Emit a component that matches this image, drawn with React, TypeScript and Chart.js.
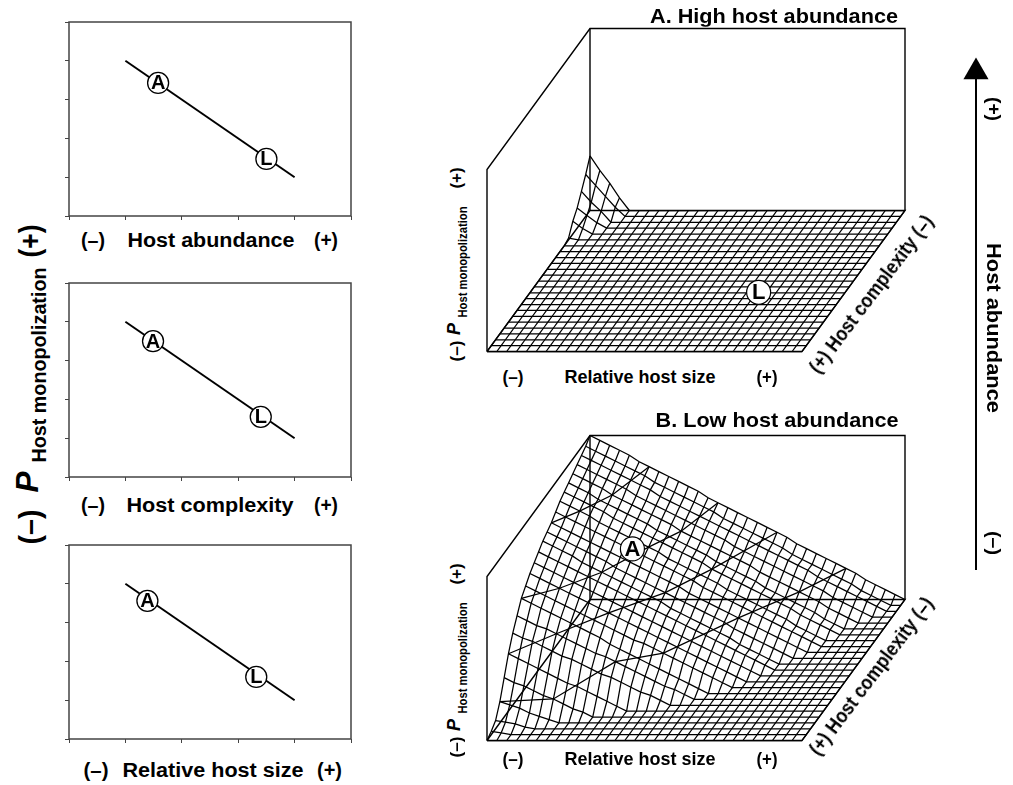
import React, { useEffect, useRef } from "react";
import { Chart, registerables } from "chart.js";

Chart.register(...registerables);

const FONT = '"Liberation Sans", Arial, sans-serif';
const INK = "#000000";
const FRAME = "#444444";

// ---- Left-hand line panels (arbitrary 0..5 units) ----
const trendX = [1, 4];
const trendY = [4, 1];
const abundanceAL = [[1.58, 3.43], [3.5, 1.47]];
const complexityAL = [[1.49, 3.5], [3.4, 1.55]];
const sizeAL = [[1.39, 3.56], [3.32, 1.6]];
const markerLetters = ["A", "L"];

// ---- Surface heights in % of the wall height. Row = complexity step, front (+) to back (-); column = size step (-) to (+). Missing end cells lie on the floor ----
const COLS = 32;
const ROWS = 24;
const lowAbundanceZ: number[][] = [
  [0],
  [2, 1, 0],
  [5, 4, 3, 1, 0],
  [13, 11, 9, 6, 4, 2, 0],
  [24, 21, 19, 16, 13, 11, 8, 5, 3, 0],
  [35, 32, 29, 26, 23, 20, 17, 15, 12, 9, 6, 3, 0],
  [44, 41, 39, 36, 33, 30, 28, 25, 22, 19, 17, 14, 11, 8, 6, 3, 0],
  [51, 48, 45, 43, 40, 37, 34, 31, 28, 26, 23, 20, 17, 14, 11, 8, 6, 3, 0],
  [58, 55, 52, 49, 46, 43, 40, 37, 34, 30, 27, 24, 21, 18, 15, 12, 9, 6, 3, 0],
  [62, 59, 56, 53, 50, 47, 44, 41, 38, 35, 32, 29, 27, 24, 21, 18, 15, 12, 9, 6, 3, 0],
  [66, 63, 60, 57, 54, 51, 48, 45, 42, 39, 36, 33, 30, 27, 24, 21, 18, 15, 12, 9, 6, 3, 0],
  [69, 66, 63, 60, 57, 54, 51, 48, 45, 42, 39, 36, 33, 30, 27, 24, 21, 18, 15, 12, 9, 6, 3, 0],
  [72, 69, 66, 63, 60, 57, 54, 51, 48, 45, 42, 39, 36, 33, 30, 27, 24, 21, 18, 15, 12, 9, 6, 3, 0],
  [75, 72, 69, 66, 62, 59, 56, 53, 50, 47, 44, 41, 38, 34, 31, 28, 25, 22, 19, 16, 12, 9, 6, 3, 0],
  [77, 74, 71, 68, 65, 62, 59, 55, 52, 49, 46, 43, 40, 37, 34, 31, 28, 25, 22, 18, 15, 12, 9, 6, 3, 0],
  [79, 76, 73, 70, 67, 64, 61, 58, 55, 52, 49, 46, 43, 40, 36, 33, 30, 27, 24, 21, 18, 15, 12, 9, 6, 3, 0],
  [82, 79, 76, 73, 70, 67, 64, 61, 58, 55, 52, 49, 46, 43, 40, 36, 33, 30, 27, 24, 21, 18, 15, 12, 9, 6, 3, 0],
  [85, 82, 79, 76, 72, 69, 66, 63, 60, 57, 54, 50, 47, 44, 41, 38, 35, 31, 28, 25, 22, 19, 16, 13, 9, 6, 3, 0],
  [87, 84, 81, 78, 75, 71, 68, 65, 62, 59, 56, 53, 50, 47, 44, 40, 37, 34, 31, 28, 25, 22, 19, 16, 12, 9, 6, 3, 0],
  [89, 86, 83, 79, 76, 73, 70, 67, 64, 60, 57, 54, 51, 48, 45, 41, 38, 35, 32, 29, 25, 22, 19, 16, 13, 10, 6, 3, 0],
  [91, 88, 85, 82, 78, 75, 72, 69, 66, 63, 60, 56, 53, 50, 47, 44, 41, 38, 35, 31, 28, 25, 22, 19, 16, 13, 9, 6, 3, 0],
  [93, 90, 87, 84, 81, 78, 74, 71, 68, 65, 62, 59, 56, 53, 50, 47, 43, 40, 37, 34, 31, 28, 25, 22, 19, 16, 12, 9, 6, 3, 0],
  [95, 92, 89, 86, 83, 80, 77, 74, 70, 67, 64, 61, 58, 55, 52, 49, 46, 43, 40, 37, 34, 31, 28, 25, 21, 18, 15, 12, 9, 6, 3, 0],
  [97, 94, 91, 88, 85, 82, 79, 75, 72, 69, 66, 63, 60, 57, 53, 50, 47, 44, 41, 38, 35, 31, 28, 25, 22, 19, 16, 13, 9, 6, 3, 0],
  [100, 97, 94, 91, 88, 84, 81, 78, 75, 72, 69, 66, 62, 59, 56, 53, 50, 47, 44, 41, 38, 34, 31, 28, 25, 22, 19, 16, 12, 9, 6, 3, 0],
];
const highAbundanceZ: number[][] = [
  [], [], [], [], [], [], [], [], [], [], [], [], [], [], [], [], [], [], [],
  [1, 0],
  [7, 3, 0],
  [11, 7, 3, 0],
  [17, 11, 6, 0],
  [23, 17, 11, 5, 0],
  [30, 22, 15, 7, 0],
];
// Coarser lines across the low-abundance surface, as [column, row] mesh nodes
const crossLines: number[][][] = [
  [[0, 15], [2, 17], [4, 20], [6, 24]],
  [[0, 8], [3, 10], [6, 13], [9, 17], [11, 20], [13, 24]],
  [[0, 5], [4, 7], [8, 10], [12, 14], [15, 18], [19, 24]],
  [[0, 3], [5, 4], [10, 7], [14, 9], [19, 15], [23, 20], [26, 24]],
];
// Box edges as [size, complexity, height]
const boxEdges: number[][][] = [
  [[0, 0, 0], [1, 0, 0], [1, 1, 0], [0, 1, 0], [0, 0, 0]],
  [[0, 0, 0], [0, 0, 1], [0, 1, 1], [1, 1, 1], [1, 1, 0]],
  [[0, 1, 1], [0, 1, 0]],
];
const markerHigh = [[0.725, 0.42, 0]];
const markerLow = [[0.236, 0.69, 0.575]];
const hostAbundanceAxis = [0, 1];

const letterPlugin = {
  id: "letters",
  afterDatasetsDraw(chart: any) {
    chart.data.datasets.forEach((ds: any, k: number) => {
      if (!ds.letters) return;
      const meta = chart.getDatasetMeta(k);
      const c = chart.ctx;
      c.save();
      c.fillStyle = INK;
      c.font = `bold ${ds.letterSize}px ${FONT}`;
      c.textAlign = "center";
      c.textBaseline = "middle";
      meta.data.forEach((p: any, i: number) => c.fillText(ds.letters[i], p.x, p.y + 1));
      c.restore();
    });
  },
};

function useChart(build: () => any) {
  const ref = useRef<HTMLCanvasElement>(null);
  useEffect(() => {
    const chart = new Chart(ref.current!, build());
    return () => chart.destroy();
  }, []);
  return ref;
}

const quiet = { legend: { display: false }, tooltip: { enabled: false }, title: { display: false } };

function LinePanel({ top, al }: { top: number; al: number[][] }) {
  const ref = useChart(() => ({
    type: "scatter",
    plugins: [letterPlugin],
    data: {
      datasets: [
        { order: 3, data: [[0, 0], [0, 5], [5, 5], [5, 0], [0, 0]].map(([x, y]) => ({ x, y })), showLine: true, borderColor: FRAME, borderWidth: 1.5, pointRadius: 0, clip: false },
        { order: 2, data: trendX.map((x, i) => ({ x, y: trendY[i] })), showLine: true, borderColor: INK, borderWidth: 2, pointRadius: 0 },
        { order: 1, data: al.map(([x, y]) => ({ x, y })), showLine: false, pointRadius: 10.5, pointBackgroundColor: "#ffffff", pointBorderColor: INK, pointBorderWidth: 1.3, letters: markerLetters, letterSize: 20, clip: false },
      ],
    },
    options: {
      animation: false,
      responsive: false,
      layout: { padding: { top: 4, right: 4 }, autoPadding: false },
      plugins: quiet,
      scales: {
        x: { type: "linear", min: 0, max: 5, afterFit: (s: any) => { s.height = 4; }, ticks: { display: false, stepSize: 1 }, border: { display: false }, grid: { drawOnChartArea: false, color: FRAME, tickLength: 4, lineWidth: 1 } },
        y: { type: "linear", min: 0, max: 5, afterFit: (s: any) => { s.width = 4; }, ticks: { display: false, stepSize: 1 }, border: { display: false }, grid: { drawOnChartArea: false, color: FRAME, tickLength: 4, lineWidth: 1 } },
      },
    },
  }));
  return <canvas ref={ref} width={290} height={202} style={{ position: "absolute", left: 65, top, width: 290, height: 202 }} />;
}

const SKEW_X = 103 / 315;
const SKEW_Y = 141 / 315;

function SurfacePanel({ top, height, wall, floorY, z, cross, marker, letter }: any) {
  const zh = wall / 315;
  const proj = (u: number, v: number, h: number) => ({ x: u + SKEW_X * v, y: SKEW_Y * v + zh * h });
  const at = (i: number, j: number) => (z[j][i] ?? 0) / 100;
  const ref = useChart(() => {
    const line = { order: 2, showLine: true, borderColor: INK, borderWidth: 1.25, pointRadius: 0, tension: 0 };
    const datasets: any[] = [];
    for (let j = 0; j <= ROWS; j++) {
      const data = [];
      for (let i = 0; i <= COLS; i++) data.push(proj(i / COLS, j / ROWS, at(i, j)));
      datasets.push({ ...line, data });
    }
    for (let i = 0; i <= COLS; i++) {
      const data = [];
      for (let j = 0; j <= ROWS; j++) data.push(proj(i / COLS, j / ROWS, at(i, j)));
      datasets.push({ ...line, data });
    }
    cross.forEach((l: number[][]) => datasets.push({ ...line, data: l.map(([i, j]) => proj(i / COLS, j / ROWS, at(i, j))) }));
    boxEdges.forEach((e) => datasets.push({ ...line, borderWidth: 1.4, data: e.map(([u, v, h]) => proj(u, v, h)) }));
    datasets.push({ order: 1, data: marker.map(([u, v, h]: number[]) => proj(u, v, h)), showLine: false, pointRadius: 12, pointBackgroundColor: "#ffffff", pointBorderColor: INK, pointBorderWidth: 1.2, letters: [letter], letterSize: 22 });
    return {
      type: "scatter",
      plugins: [letterPlugin],
      data: { datasets },
      options: {
        animation: false,
        responsive: false,
        layout: { padding: 0, autoPadding: false },
        plugins: quiet,
        scales: {
          x: { type: "linear", display: false, min: -17 / 315, max: (450 - 17) / 315 },
          y: { type: "linear", display: false, min: -(top + height - floorY) / 315, max: (floorY - top) / 315 },
        },
      },
    };
  });
  return <canvas ref={ref} width={450} height={height} style={{ position: "absolute", left: 470, top, width: 450, height }} />;
}

function Arrow() {
  const ref = useChart(() => ({
    type: "scatter",
    data: {
      datasets: [
        { data: hostAbundanceAxis.map((y) => ({ x: 0, y })), showLine: true, borderColor: INK, borderWidth: 2, pointStyle: "triangle", pointRadius: [0, 14.5], pointBackgroundColor: INK, pointBorderColor: INK, pointBorderWidth: 0, clip: false },
      ],
    },
    options: {
      animation: false,
      responsive: false,
      layout: { padding: 0, autoPadding: false },
      plugins: quiet,
      scales: {
        x: { type: "linear", display: false, min: -1, max: 1 },
        y: { type: "linear", display: false, min: -20 / 498, max: 1 + 22 / 498 },
      },
    },
  }));
  return <canvas ref={ref} width={40} height={540} style={{ position: "absolute", left: 956, top: 50, width: 40, height: 540 }} />;
}

const meter = typeof document !== "undefined" ? document.createElement("canvas").getContext("2d") : null;

function Label({ t, cx, cy, w, size, rot = 0, italic = false }: { t: string; cx: number; cy: number; w?: number; size: number; rot?: number; italic?: boolean }) {
  const font = `${italic ? "italic " : ""}bold ${size}px ${FONT}`;
  let sx = 1;
  if (w && meter) {
    meter.font = font;
    sx = w / meter.measureText(t).width;
  }
  return (
    <div style={{ position: "absolute", left: cx, top: cy, font, lineHeight: 1, color: INK, whiteSpace: "nowrap", transform: `translate(-50%,-50%) rotate(${rot}deg) scaleX(${sx})` }}>{t}</div>
  );
}

export default function App() {
  return (
    <div style={{ position: "absolute", left: 0, top: 0, width: 1013, height: 785, overflow: "hidden", background: "#fff" }}>
      <LinePanel top={18} al={abundanceAL} />
      <LinePanel top={279} al={complexityAL} />
      <LinePanel top={540.5} al={sizeAL} />

      <Label t="(–)" cx={93} cy={240} w={24} size={20} />
      <Label t="Host abundance" cx={210.5} cy={240} w={167} size={20} />
      <Label t="(+)" cx={326} cy={240} w={24} size={20} />
      <Label t="(–)" cx={93} cy={505} w={24} size={20} />
      <Label t="Host complexity" cx={209.5} cy={505} w={167} size={20} />
      <Label t="(+)" cx={326} cy={505} w={24} size={20} />
      <Label t="(–)" cx={95.5} cy={770} w={25} size={20} />
      <Label t="Relative host size" cx={212.5} cy={770} w={181} size={20} />
      <Label t="(+)" cx={329.5} cy={770} w={25} size={20} />

      <Label t="(+)" cx={30} cy={241} w={33} size={30} rot={-90} />
      <Label t="Host monopolization" cx={39} cy={365} w={195} size={20} rot={-90} />
      <Label t="P" cx={27} cy={482} w={21} size={32} rot={-90} italic />
      <Label t="(–)" cx={30} cy={527} w={35} size={30} rot={-90} />

      <SurfacePanel top={20} height={345} wall={182} floorY={351.5} z={highAbundanceZ} cross={[]} marker={markerHigh} letter="L" />
      <SurfacePanel top={425} height={325} wall={164} floorY={740.5} z={lowAbundanceZ} cross={crossLines} marker={markerLow} letter="A" />

      <Label t="A. High host abundance" cx={774} cy={15} w={248} size={21} />
      <Label t="B. Low host abundance" cx={776.5} cy={419} w={243} size={21} />

      {[0, 382].map((d) => (
        <React.Fragment key={d}>
          <Label t="(–)" cx={512.5} cy={377 + d} w={21} size={18} />
          <Label t="Relative host size" cx={639.5} cy={377 + d} w={151} size={18} />
          <Label t="(+)" cx={766.5} cy={377 + d} w={21} size={18} />
          <Label t="(+) Host complexity (–)" cx={871} cy={294 + d} w={192} size={20} rot={-53} />
        </React.Fragment>
      ))}
      {[0, 396].map((d) => (
        <React.Fragment key={d}>
          <Label t="(+)" cx={457} cy={178 + d} w={21} size={16} rot={-90} />
          <Label t="Host monopolization" cx={462} cy={262 + d} w={111} size={13} rot={-90} />
          <Label t="P" cx={454} cy={329 + d} w={12} size={18} rot={-90} italic />
          <Label t="(–)" cx={457} cy={351 + d} w={21} size={16} rot={-90} />
        </React.Fragment>
      ))}

      <Arrow />
      <Label t="(+)" cx={994} cy={109} w={24} size={19} rot={90} />
      <Label t="Host abundance" cx={994} cy={328} w={170} size={20} rot={90} />
      <Label t="(–)" cx={994} cy={543} w={24} size={19} rot={90} />
    </div>
  );
}
